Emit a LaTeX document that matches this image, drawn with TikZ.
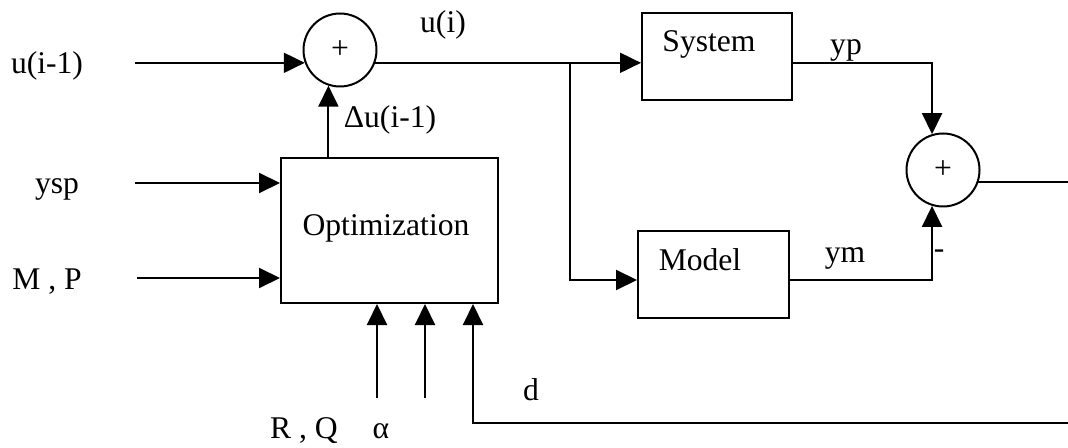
\documentclass[tikz,border=0pt]{standalone}
\usepackage{fontspec}
\setmainfont{Liberation Serif}
\usetikzlibrary{arrows.meta, calc}

\begin{document}
\begin{tikzpicture}[x=0.5pt,y=-0.5pt,
  line width=1pt,
  font=\fontsize{15.8}{19}\selectfont,
  arr/.style={-{Triangle[length=10.5pt,width=10pt]}},
  block/.style={draw, minimum width=#1, minimum height=43.5pt, inner sep=0pt},
  sumnode/.style={draw, circle, minimum size=36.5pt, inner sep=0pt}]
\useasboundingbox (0,0) rectangle (1068,448);

% summing junctions and blocks
\node[sumnode] (sum1) at (340,50) {+};
\node[sumnode] (sum2) at (943,170) {+};
\node[block=75pt] (sys) at (717,56.5) {};
\node[block=75.5pt] (mod) at (713.5,274.5) {};
\node[draw, minimum width=108.5pt, minimum height=72.5pt, inner sep=0pt] (opt) at (389.5,230.5) {};

\node (systxt) at (709,44) {System};
\node (modtxt) at (700,260) {Model};
\node (opttxt) at (386,228) {Optimization};

% signal labels
\node (uprev) at (47,66) {u(i-1)};
\node (ysp) at (57,189) {ysp};
\node (mp) at (47,282) {M , P};
\node (ui) at (443,25) {u(i)};
\node (du) at (390,120) {Δu(i-1)};
\node (yp) at (846,50) {yp};
\node (ym) at (845,258) {ym};
\node (minus) at (939,254) {-};
\node (rq) at (304,431) {R , Q};
\node (alpha) at (381,431) {α};
\node (d) at (531,390) {d};

% free ends
\coordinate (uin) at (135,63);
\coordinate (yspin) at (135,183);
\coordinate (mpin) at (137,278);
\coordinate (br) at (570,63);
\coordinate (yout) at (1068,182);
\coordinate (rqin) at (377,398);
\coordinate (alin) at (425,398);
\coordinate (dend) at (1068,423);
\coordinate (dup) at (473,423);

% forward path
\draw[arr] (uin |- sum1.200) -- (sum1.200);
\draw (sum1.340) -- (sum1.340 -| br) coordinate (brpt);
\draw[arr] (brpt) -- (brpt -| sys.west);
\draw[arr] (brpt) |- ([yshift=-2.75pt]mod.west);
\draw[arr] (sys.east |- brpt) -| (sum2.107);
\draw[arr] ([yshift=-2.75pt]mod.east) -| (sum2.253);
\draw (sum2.341) -- (sum2.341 -| yout);

% optimization inputs and output
\draw[arr] (sum1.252 |- opt.north) -- (sum1.252);
\draw[arr] (yspin) -- (yspin -| opt.west);
\draw[arr] (mpin) -- (mpin -| opt.west);
\foreach \c in {rqin, alin}
  \draw[arr] (\c) -- (\c |- opt.south);
\draw[arr] (dend) -- (dup) -- (dup |- opt.south);
\end{tikzpicture}
\end{document}
